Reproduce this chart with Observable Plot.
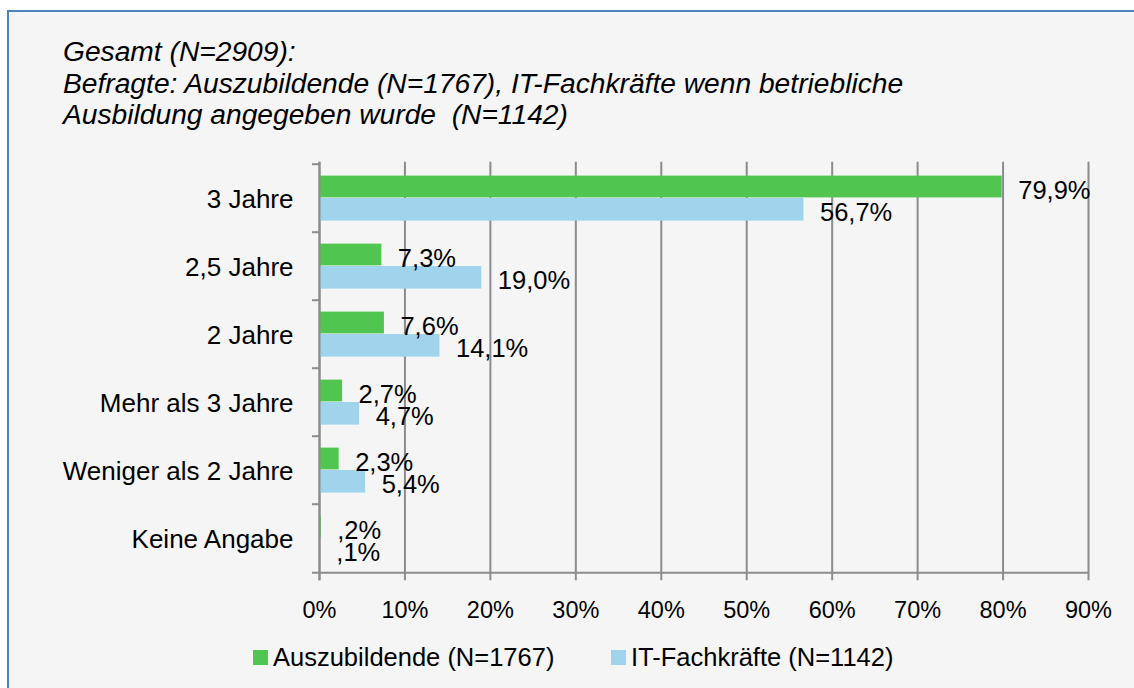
<!DOCTYPE html>
<html>
<head>
<meta charset="utf-8">
<script src="https://cdn.jsdelivr.net/npm/d3@7"></script>
<script src="https://cdn.jsdelivr.net/npm/@observablehq/plot@0.6"></script>
<style>
  html, body { margin: 0; padding: 0; background: #ffffff; }
  body { width: 1134px; height: 688px; overflow: hidden; position: relative; font-family: "Liberation Sans", Arial, sans-serif; }
  #frame { position: absolute; left: 7px; top: 10px; width: 1140px; height: 700px;
           border-left: 2px solid #4f81bd; border-top: 2px solid #4f81bd; background: #f5f5f5; box-sizing: border-box; }
  #title { position: absolute; left: 63px; top: 36px; font-size: 28.2px; font-style: italic; line-height: 31.6px; color: #000; white-space: nowrap; }
  #chart { position: absolute; left: 0; top: 140px; }
  #legend { position: absolute; top: 644px; left: 253px; font-size: 25.5px; color: #000; white-space: nowrap; line-height: 26px; }
  .item { position: absolute; top: 0; display: flex; align-items: center; }
  .sw { width: 15px; height: 15px; margin-right: 5px; }
</style>
</head>
<body>
<div id="frame"></div>
<div id="title">Gesamt (N=2909):<br>Befragte: Auszubildende (N=1767), IT-Fachkräfte wenn betriebliche<br>Ausbildung angegeben wurde&nbsp; (N=1142)</div>
<div id="chart"></div>
<div id="legend"></div>
<script>
// ---- data ----
const categories = ["3 Jahre", "2,5 Jahre", "2 Jahre", "Mehr als 3 Jahre", "Weniger als 2 Jahre", "Keine Angabe"];
const seriesNames = ["Auszubildende (N=1767)", "IT-Fachkräfte (N=1142)"];
const azubiValues = [79.9, 7.3, 7.6, 2.7, 2.3, 0.2];
const itValues = [56.7, 19.0, 14.1, 4.7, 5.4, 0.1];
const xTicks = [0, 10, 20, 30, 40, 50, 60, 70, 80, 90];
const colors = ["#50c650", "#a0d4ec"];

// ---- helpers ----
const fmt = v => d3.format(".1f")(v).replace(".", ",").replace(/^0,/, ",") + "%";
const azubiRows = categories.map((c, i) => ({cat: c, value: azubiValues[i]}));
const itRows = categories.map((c, i) => ({cat: c, value: itValues[i]}));

const W = 1134, H = 490;
const mt = 21.7, mb = 56.7, ml = 319, mr = 46;
const bw = (H - mt - mb) / categories.length;
const grid = "#8c8c8c";
const font = "'Liberation Sans', Arial, sans-serif";

const chart = Plot.plot({
  width: W,
  height: H,
  marginTop: mt,
  marginBottom: mb,
  marginLeft: ml,
  marginRight: mr,
  style: {background: "none", fontFamily: font, color: "#000"},
  x: {domain: [0, 90], axis: null},
  y: {domain: categories, padding: 0, axis: null},
  marks: [
    // gridlines (+ downward ticks)
    Plot.ruleX(xTicks, {x: d => d, stroke: grid, strokeWidth: 2, insetBottom: -7}),
    // bars
    Plot.barX(azubiRows, {x: "value", y: "cat", fill: colors[0], insetTop: 11.6, insetBottom: 34.6}),
    Plot.barX(itRows, {x: "value", y: "cat", fill: colors[1], insetTop: 34.0, insetBottom: 11.4}),
    // axis line at 0 on top
    Plot.ruleX([0], {x: d => d, stroke: grid, strokeWidth: 2, insetBottom: -7}),
    // category boundary ticks
    Plot.ruleY(categories, {y: d => d, x1: () => 0, x2: () => 0, insetLeft: -7, dy: -bw / 2, stroke: grid, strokeWidth: 2}),
    // bottom axis line
    Plot.ruleY([categories[categories.length - 1]], {y: d => d, insetLeft: -7, dy: bw / 2, stroke: grid, strokeWidth: 2}),
    // value labels
    Plot.text(azubiRows, {x: "value", y: "cat", text: d => fmt(d.value), textAnchor: "start", dx: 16, dy: -8, fontSize: 25.5, fill: "#000"}),
    Plot.text(itRows, {x: "value", y: "cat", text: d => fmt(d.value), textAnchor: "start", dx: 16, dy: 14.5, fontSize: 25.5, fill: "#000"}),
    // category labels
    Plot.text(categories, {y: d => d, text: d => d, frameAnchor: "left", textAnchor: "end", dx: -26, dy: 1, fontSize: 26, fill: "#000"}),
    // x tick labels
    Plot.text(xTicks, {x: d => d, text: d => d + "%", frameAnchor: "bottom", lineAnchor: "middle", dy: 36.5, fontSize: 23.5, fill: "#000"})
  ]
});
document.getElementById("chart").appendChild(chart);

// ---- legend ----
const legend = document.getElementById("legend");
const lefts = [0, 358];
seriesNames.forEach((name, i) => {
  const item = document.createElement("div");
  item.className = "item";
  item.style.left = lefts[i] + "px";
  const sw = document.createElement("span");
  sw.className = "sw";
  sw.style.background = colors[i];
  const t = document.createElement("span");
  t.textContent = name;
  item.appendChild(sw);
  item.appendChild(t);
  legend.appendChild(item);
});
</script>
</body>
</html>
